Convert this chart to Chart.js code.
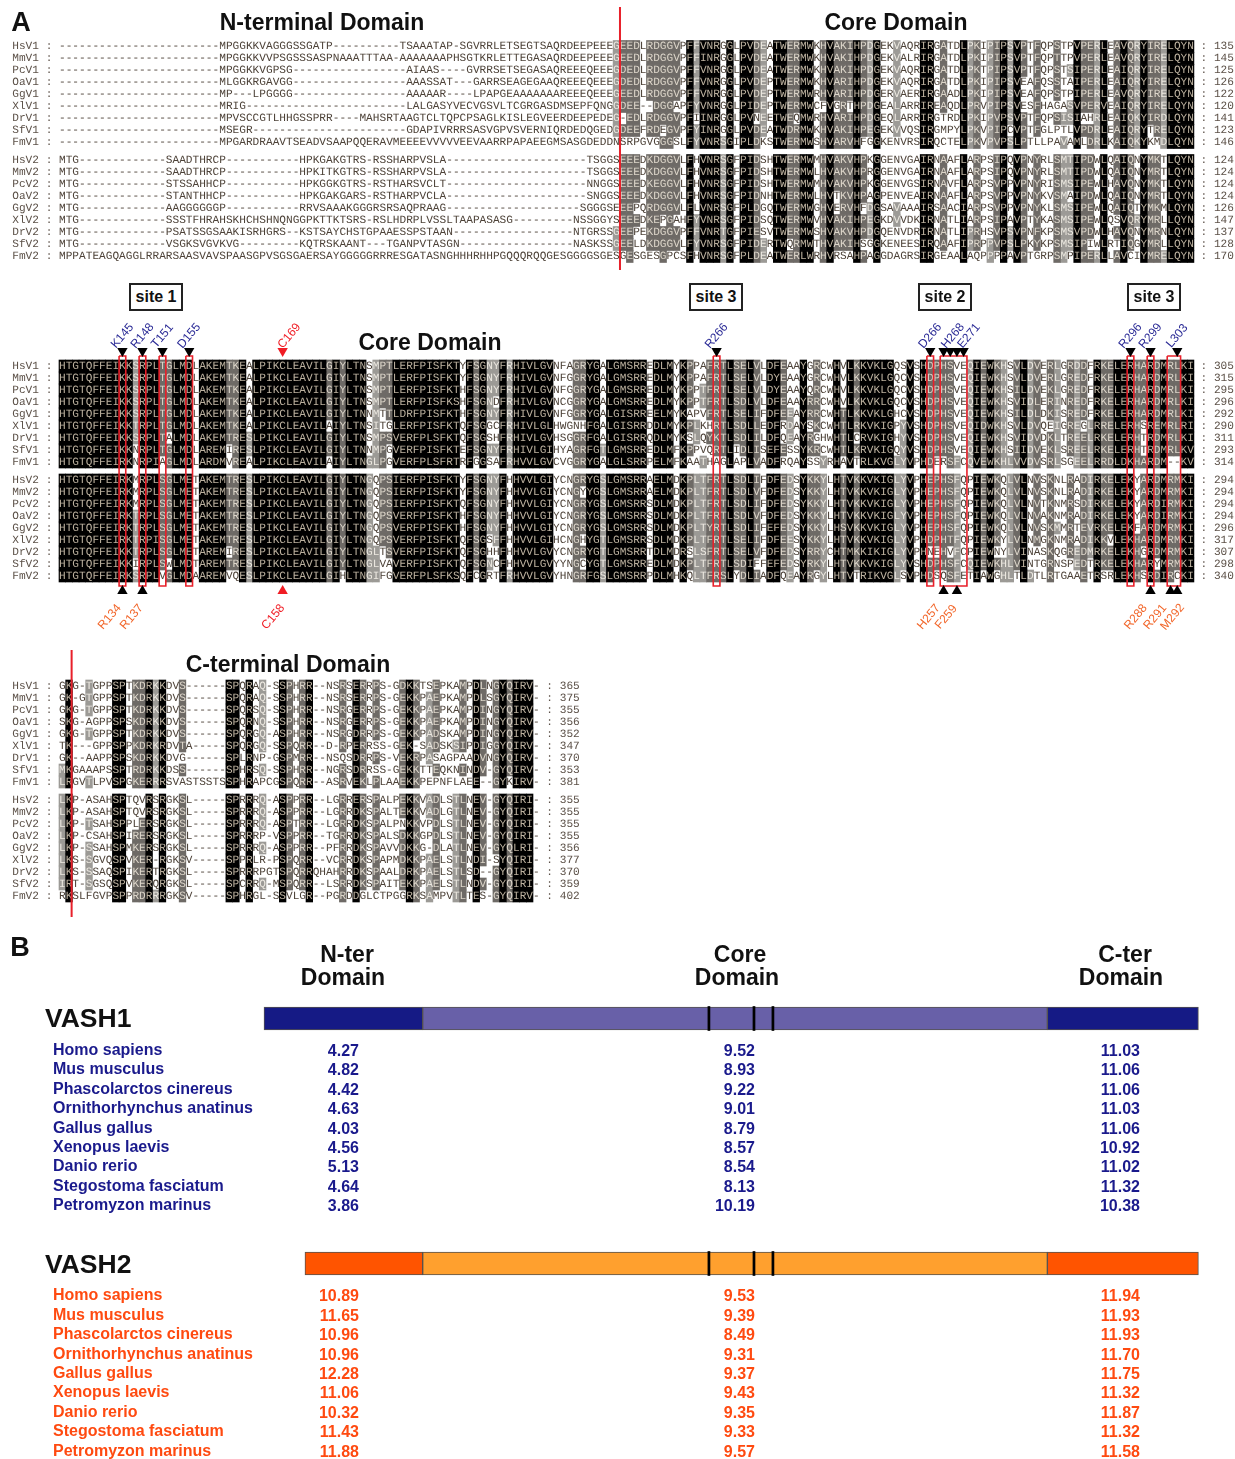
<!DOCTYPE html>
<html>
<head>
<meta charset="utf-8">
<title>VASH alignment</title>
<script src="https://cdn.jsdelivr.net/npm/chart.js@4/dist/chart.umd.min.js"></script>
<style>
html,body{margin:0;padding:0;background:#fff;overflow:hidden}
body{position:relative;width:1235px;height:1459px;font-family:"Liberation Sans",Arial,sans-serif;color:#111}
canvas{position:absolute;left:0}
#chartA{top:0;filter:blur(0.35px)}
#chartB{top:925px}
.t{position:absolute;font-weight:bold;white-space:nowrap;transform:translate(-50%,-50%);line-height:1}
.h{font-size:23px}
.p{font-size:27px}
.v{font-size:26.5px;transform:translate(0,-50%)}
.box{position:absolute;width:50px;height:24px;border:2px solid #222;background:#fff;font-weight:bold;font-size:16px;line-height:24px;text-align:center}
</style>
</head>
<body>
<canvas id="chartA" width="1235" height="925"></canvas>
<canvas id="chartB" width="1235" height="534"></canvas>

<div class="t p" style="left:21px;top:22px">A</div>
<div class="t h" style="left:322px;top:22px">N-terminal Domain</div>
<div class="t h" style="left:896px;top:22px">Core Domain</div>
<div class="t h" style="left:430px;top:342px">Core Domain</div>
<div class="t h" style="left:288px;top:664px">C-terminal Domain</div>
<div class="box" style="left:129px;top:283px">site 1</div>
<div class="box" style="left:689px;top:283px">site 3</div>
<div class="box" style="left:918px;top:283px">site 2</div>
<div class="box" style="left:1127px;top:283px">site 3</div>

<div class="t p" style="left:20px;top:947px">B</div>
<div class="t h" style="left:347px;top:954px">N-ter</div>
<div class="t h" style="left:343px;top:977px">Domain</div>
<div class="t h" style="left:740px;top:954px">Core</div>
<div class="t h" style="left:737px;top:977px">Domain</div>
<div class="t h" style="left:1125px;top:954px">C-ter</div>
<div class="t h" style="left:1121px;top:977px">Domain</div>
<div class="t v" style="left:45px;top:1018px">VASH1</div>
<div class="t v" style="left:45px;top:1264px">VASH2</div>

<script>
function gap(n){ return "-".repeat(n) }

var rowNames = ["HsV1","MmV1","PcV1","OaV1","GgV1","XlV1","DrV1","SfV1","FmV1",
                "HsV2","MmV2","PcV2","OaV2","GgV2","XlV2","DrV2","SfV2","FmV2"]

// N-terminal part of the first block
var nterSeqs = [
    gap(24)+"MPGGKKVAGGGSSGATP"+gap(10)+"TSAAATAP-SGVRRLETSEGTSAQRDEEPEEEG",
    gap(24)+"MPGGKKVVPSGSSSASPNAAATTTAA-AAAAAAAPHSGTKRLETTEGASAQRDEEPEEEG",
    gap(24)+"MPGGKKVGPSG"+gap(17)+"AIAAS----GVRRSETSEGASAQREEEQEEEG",
    gap(24)+"MLGGKRGAVGG"+gap(17)+"AAASSAT---GARRSEAGEGAAQREEEQEEEG",
    gap(24)+"MP---LPGGGG"+gap(17)+"AAAAAR----LPAPGEAAAAAAAREEEQEEEG",
    gap(24)+"MRIG"+gap(24)+"LALGASYVECVGSVLTCGRGASDMSEPFQNGG",
    gap(24)+"MPVSCCGTLHHGSSPRR----MAHSRTAAGTCLTQPCPSAGLKISLEGVEERDEEPEDEG",
    gap(24)+"MSEGR"+gap(23)+"GDAPIVRRRSASVGPVSVERNIQRDEDQGEDG",
    gap(24)+"MPGARDRAAVTSEADVSAAPQQERAVMEEEEVVVVVEEVAARRPAPAEEGMSASGDEDDN",
    "MTG"+gap(13)+"SAADTHRCP"+gap(11)+"HPKGAKGTRS-RSSHARPVSLA"+gap(21)+"TSGGS",
    "MTG"+gap(13)+"SAADTHRCP"+gap(11)+"HPKITKGTRS-RSSHARPVSLA"+gap(21)+"TSGGS",
    "MTG"+gap(13)+"STSSAHHCP"+gap(11)+"HPKGGKGTRS-RSTHARSVCLT"+gap(21)+"NNGGS",
    "MTG"+gap(13)+"STANTHHCP"+gap(11)+"HPKGAKGARS-RSTHARPVCLA"+gap(21)+"SNGGS",
    "MTG"+gap(13)+"AAGGGGGGP"+gap(11)+"RRVSAAAKGGGRSRSAQPRAAG"+gap(20)+"SGGGSE",
    "MTG"+gap(13)+"SSSTFHRAHSKHCHSHNQNGGPKTTKTSRS-RSLHDRPLVSSLTAAPASASG"+gap(9)+"NSSGGYS",
    "MTG"+gap(13)+"PSATSSGSAAKISRHGRS--KSTSAYCHSTGPAAESSPSTAAN"+gap(18)+"NTGRSSG",
    "MTG"+gap(13)+"VSGKSVGVKVG"+gap(9)+"KQTRSKAANT---TGANPVTASGN"+gap(17)+"NASKSSG",
    "MPPATEAGQAGGLRRARSAASVAVSPAASGPVSGSGAERSAYGGGGGRRRESGATASNGHHHRHHPGQQQRQQGESGGGGSGES"
]

// core part of the first block
var coreSeqs = [
    "EEDLRDGGVPFFVNRGGLPVDEATWERMWKHVAKIHPDGEKVAQRIRGATDLPKIPIPSVPTFQPSTPVPERLEAVQRYIRELQYN",
    "EEDLRDGGVPFFINRGGLPVDEATWERMWKHVAKIHPDGEKVALRIRGATDLPKIPIPSVPTFQPTTPVPERLEAVQRYIRELQYN",
    "DEDLRDGGVPFFVNRGGLPVDEATWERMWKHVAKIHPDGEKVAQRIRGATDLPKTPIPSVPTFQPSTSIPERLEAIQRYIRELQYN",
    "DEDLRDGGVPFFVNRGGLPVDEPTWERMWKHVARIHPDGEKVAQRIRGATDLPKIPIPSVEAFQSSTAIPERLEAIQRYIRELQYN",
    "EEDLRDGGVPFFVNRGGLPVDEPTWERMWRHVARIHPDGERVAERIRGAADLPKIPIPSVEAFQPSTPIPERLEAVQRYIRELQYN",
    "DEE--DGGAPFYVNRGGLPIDEPTWERMWCFVGRTHPDGEALARRIREAQDLPRVPIPSVESFHAGASVPERVEAIQRYIRELQYN",
    "-EDLRDGGVPFIINRGGLPVNEETWEQMWRHVARIHPDGEQLARRIRGTRDLPKIPVPSVPTFQPSISIAHRLEAIQKYIRDLQYN",
    "DEEFRDEGVPFYINRGGLPVDEATWDRMWKHVAKIHPEGEKVVQSIRGMPYLPKVPIPCVPTFGLPTLVPDRLEAIQRYTRELQYN",
    "SRPGVGGGSLFYVNRSGIPLDKSTWERMWSHVARVHFGGKENVRSIRQCTELPKVPVPSLPTLLPAVAMLDRLKAIQKYKMDLQYN",
    "EEEDKDGGVLFHVNRSGFPIDSHTWERMWMHVAKVHPKGGENVGAIRNAAFLARPSIPQVPNYRLSMTIPDWLQAIQNYMKTLQYN",
    "EEEDKDGGVLFHVNRSGFPIDSHTWERMWLHVAKVHPRGGENVGAIRNAAFLARPSIPQVPNYRLSMTIPDWLQAIQNYMRTLQYN",
    "EEEDKEGGVLFHVNRSGFPIDSHTWERMWMHVAKVHPKGGENVGSIRNAVFLARPSVPPVPNYRISMSIPEWLHAVQNYMKTLQYN",
    "EEEDKDGGVLFHVNRSGFPIDNHTWERMWLHVTKVHPAGPENVEAIRNAAFLARPSVPPVPNYKVSMAIPDWLQAIQNYMRTLQYN",
    "EEPQRDGGVLFLVNRSGFPLDGQTWERMWGHVERVHFDGSAVAAAIRSAACIARPSVPPVPNYKLSMSIPEWLQAIQTYMKMLQYN",
    "EEEDKEPGAHFYVNRSGFPIDSQTWERMWVHVAKIHPEGKDVVDKIRNATLIARPSIPAVPTYKASMSIPEWLQSVQRYMRLLQYN",
    "EEPEKDGGVPFFVNRTGFPIESVTWERMWSHVAKVHPDGQENVDRIRNATLIPRHSVPSVPNFKPSMSVPDWLHAVQNYMRNLQYN",
    "EELDKDGGVLFYVNRSGFPIDERTWQRMWTHVAKIHSGGKENEESIRQAAFIPRPPVPSLPKYKPSMSIPIWLRTIQGYMRLLQYN",
    "GESGESGPCSFHVNRSGFPLDEATWERLWRHVRSAHPAGGDAGRSIRGEAALAQPPPPAVPTGRPSMPIPERLLAVCIYMRELQYN"
]

// second block, core domain
var core2Seqs = [
    "HTGTQFFEIKKSRPLTGLMDLAKEMTKEALPIKCLEAVILGIYLTNSMPTLERFPISFKTYFSGNYFRHIVLGVNFAGRYGALGMSRREDLMYKPPAFRTLSELVLDFEAAYGRCWHVLKKVKLGQSVSHDPHSVEQIEWKHSVLDVERLGRDDFRKELERHARDMRLKI",
    "HTGTQFFEIKKSRPLTGLMDLAKEMTKEALPIKCLEAVILGIYLTNSMPTLERFPISFKTYFSGNYFRHIVLGVNFGGRYGALGMSRREDLMYKPPAFRTLSELVLDYEAAYGRCWHVLKKVKLGQCVSHDPHSVEQIEWKHSVLDVERLGREDFRKELERHARDMRLKI",
    "HTGTQFFEIKKSRPLTGLMDLAKEMTKEALPIKCLEAVILGIYLTNSMPTLERFPISFKTHFSGNYFRHIVLGVNFGGRYGALGMSRREDLMYKPPTFRTLSELVLDYEAAYQRCWHVLKKVKLGQCVSHDPHSVEQIEWKHSILDVEKLGREDFRKELERHARDMRLKI",
    "HTGTQFFEIKKSRPLTGLMDLAKEMTKEALPIKCLEAVILGIYLTNSMPTLERFPISFKSHFSGNDFRHIVLGVNCGGRYGALGMSRREDLMYKPPTFRTLSDLVLDFEAAYRRCWHVLKKVKLGQCVSHDPHSVEQIEWKHSVIDLERINREDFRKELERHARDMRLKI",
    "HTGTQFFEIKKSRPLTGLMDLAKEMTKEALPIKCLEAVILGIYLTNNMTTLDRFPISFKTHFSGNYFRHIVLGVNFGGRYGALGISRREELMYKAPVFRTLSELIFDFEEAYRRCWHTLKKVKLGHCVSHDPHSVEQIEWKHSILDLDKISREDFRKELERHARDMRLKI",
    "HTGTQFFEIKKTRPLTGLMDLAKEMTKEALPIKCLEAVILAIYLTNSITGLERFPISFKTQFSGGCFRHIVLGLHWGNHFGALGISRRDDLMYKPLKHRTLSDLLEDFRDAYSKCWHTLRKVKIGPYVSHDPHSVEQIDWKHSVLDVQEIGREGLRRELERHSREMRLRI",
    "HTGTQFFEIKKSRPLTALMDLAKEMTRESLPIKCLEAVILGIYLTNSMPSVERFPLSFKTQFSGSHFRHIVLGVHSGGRFGALGISRRQDLMYKSLQYKTLSDLILDFQEAYRGHWHTLCRVKIGHYVSHDPHSVEQIEWKHSVIDVDKLTREELRKELERHTRDMRLKI",
    "HTGTQFFEIKKNRPLTGLMDLAREMIRESLPIKCLEAVILGIYLTNNMPGVERFPISFKTEFSGNYFRHIVLGIHYAGRFGTLGMSRREDLMFKPPVQRTLIDLISEFESSYKRCWHTLKRVKIGQYVSHDPHSVEQIEWKHSIIDVEKLSREELRKELERHTRDMRLKV",
    "HTGTQFFEIRKNRPIAGLMDLARDMVREALPIKCLEAVILAIYLTNGLPGVERFPLSFRTRFGGSAFRHVVLGVCVGGRYGALGLSRRPELMFKAATHAGLAPLVADFRQAYSSYRHAVTRLKVGLYVPHDERSFCQVEWKHLVVDVSRLSGEELRRDLDKHARDM--KV",
    "HTGTQFFEIRKMRPLSGLMETAKEMTRESLPIKCLEAVILGIYLTNGQPSIERFPISFKTYFSGNYFHHVVLGIYCNGRYGSLGMSRRAELMDKPLTFRTLSDLIFDFEDSYKKYLHTVKKVKIGLYVPHEPHSFQPIEWKQLVLNVSKNLRADIRKELEKYARDMRMKI",
    "HTGTQFFEIRKMRPLSGLMETAKEMTRESLPIKCLEAVILGIYLTNGQPSIERFPISFKTYFSGNYFHHVVLGIYCNGYYGSLGMSRRAELMDKPLTFRTLSDLVFDFEDSYKKYLHTVKKVKIGLYVPHEPHSFQPIEWKQLVLNVSKNLRADIRKELEKYARDMRMKI",
    "HTGTQFFEIRKMRPLSGLMETAKEMTRESLPIKCLEAVILGIYLTNGQPSIERFPISFKTQFSGNYFHHVVLGIYCNGRYGSLGMSRRSDLMDKPLTFRTLSDLIFDFEDSYKKYLHTVKKVKIGLYVPHEPHSFQPIEWKQLVLNVTKNMRSDIRKELEKYARDIRMKI",
    "HTGTQFFEIRKTRPLSGLMETAKEMTRESLPIKCLEAVILGIYLTNGQPSVERFPISFKTHFSGNYFHHVVLGIYCNGRYGSLGMSRRSDLMDKPLTFRTLSDLVFDFEDSYKKYLHTVKKVKIGLYVPHEPHSFQPIEWKQLVLNVAKNMRADIRKELEKYARDIRMKI",
    "HTGTQFFEIRKTRPLSGLMETAKEMTRESLPIKCLEAVILGIYLTNGQPSVERFPISFKTHFSGNYFHHVVLGIYCNGRYGSLGMSRRSDLMDKPLTYRTLSDLIFEFEDSYKKYLHSVKKVKIGLYVPHEPHSFQPIEWKQLVLNVSKMMRTEVRKELEKFARDMRMKI",
    "HTGTQFFEIRKTRPISGLMETAKEMTRESLPIKCLEAVILGIYLTNGQPSVERFPISFKTQFSGSFFHHVVLGIHCNGHYGTLGMSRRSDLMDKPLTFRTLSELIFDFEESYKKYLHTVKKVKIGLYVPHDPHTFQPIEWKYLVLNMGKNMRADIKKVLEKHARDMRMKI",
    "HTGTQFFEIKKTRPLSGLMETAREMIRESLPIKCLEAVILGIYLTNGLTSVERFPISFKTQFSGHHFHHVVLGVYCNGRYGTLGMSRRTDLMDRSLSFRTLSELVFDFEDSYRRYCHTMKKIKIGLYVPHNEHVFCPIEWNYLVINASKQGREDMRKELEKHGRDMRMKI",
    "HTGTQFFEIKKIRPLSWLMDTAREMTRESLPIKCLEAVILGIYLTNGLVAVERFPISFKTQFSGNCFHHVVLGVYYNGCYGTLGMSRREDLMDKPLTFRTLSDIFFEFEDSYRKYLHTVKKVKIGLYVSHDPHSFCQIEWKHLVINTGRNSPEDTRKELEKHARYMRMKI",
    "HTGTQFFEIRKSRPLVGLMDAAREMVQESLPIKCLEAVILGIHLTNGIFGVERFPLSFKSQFCGRTFRHVVLGVYHNGRFGSLGMSRRPDLMHKQLTFRSLYDLIADFQEAYRGYLHTVTRIKVGLSVPHDSQSFETIAWGHLTLDTLRTGAAETRSRLEKHSRDIRCKI"
]

// third block, C-terminal domain
var cterSeqs = [
    "GKG-TGPPSPTKDRKKDVS------SPQRAQ-SSPHRR--NSRSERRPS-GDKKTSEPKAMPDLNGYQIRV-",
    "GK-GTGPPSPTKDRKKDVS------SPQRAQ-SSPHRR--NSRSERRPS-GEKKPAEPKAMPDLSGYQIRV-",
    "GKG-TGPPSPTKDRKKDVS------SPQRSQ-SSPHRR--NSRGERRPS-GEKKPAEPKAMPDINGYQIRV-",
    "SKG-AGPPSPSKDRKKDVS------SPQRNQ-SSPHRR--NSRGERRPS-GEKKPAEPKAMPDINGYQIRV-",
    "GKG-TGPPSPTKDRKKDVS------SPQRGQ-ASPHRR--NSRGDRRPS-GEKKPADSKAMPDINGYQIRV-",
    "TK---GPPSPPKDRKRDVTA-----SPQRGQ-SSPQRR--D-RPERRSS-GEK-SADSKSIPDIGGYQIRV-",
    "GK--AAPPSPSKDRKKDVG------SPLRNP-GSPMRR--NSQSDRRPS-VEKRPASAGPAADVNGYQIRV-",
    "MKGAAAPSSPTRDRKKDSS------SPHRSQ-SSPHRR--NGRSDRRSS-GEKKTTEQKNINDV-GYQIRV-",
    "LRGVTLPVSPGKERRRSVASTSSTSSPHRAPCGSPQRR--ASRVEKLPLAAEKKPEPNFLAEE--GYKIRV-",
    "LKP-ASAHSPTQVRSRGKSL-----SPRRRQ-ASPPRR--LGRRERSPALPEKKVADLSTLNEV-GYQIRI-",
    "LKP-ASAHSPTQVRSRGKSL-----SPRRRQ-ASPPRR--LGRRDKSPALTEKKVADLGTLNEV-GYQIRI-",
    "LKP-TSAHSPPLERSRGKSL-----SPRRRQ-ASPTRR--LGRRDKSPALPNKKVPDLSTLNEV-GYQIRI-",
    "LKP-CSAHSPIRERSRGKSL-----SPRRRP-VSPPRR--TGRRDKSPALSDKKGPDLSTLNEV-GYQIRI-",
    "LKP-SSAHSPMKERSRGKSL-----SPRRRQ-ASPPRR--PFRRDKSPAVVDKKG-DLATLNEV-GYQLRI-",
    "LKS-SGVQSPVKER-RGKSV-----SPPRLR-PSPQRR--VCRRDKSPAPMDKKPAELSTLNDI-SYQIRI-",
    "LKS-SSAQSPIKERTRGKSL-----SPRRRPGTSPQRRQHAHRRDKSPAALDRKPAELSTLSD--GYQIRI-",
    "IRT-SGSQSPVKERQRGKSL-----SPCRRQ-MSPQRR--LSRRDKSPAITEKKPAELSTLNDV-GYQIRI-",
    "RKSLFGVPSPPRDRRRGKSV-----SPHRGL-SSVLGR--PGRDDGLCTPGGRKSAMPVTLTES-GYQIRV-"
]

var endsBlock1 = [135,145,125,126,122,120,141,123,146,124,124,124,124,126,147,137,128,170]
var endsBlock2 = [305,315,295,296,292,290,311,293,314,294,294,294,294,296,317,307,298,340]
var endsBlock3 = [365,375,355,356,352,347,370,353,381,355,355,355,355,356,377,370,359,402]

// alignment columns of the boxed residues, second block
var boxFrom = [9,12,15,19,98,130,132,160,163,166]
var boxTo   = [9,12,15,19,98,130,135,160,163,167]

// arrowheads, second block
var topArrowCols = [9,12,15,19,33,98,130,132,133,134,135,160,163,167]
var botArrowCols = [9,12,33,132,134,163,166,167]
var redArrowCols = [33]

var topLabels = ["K145","R148","T151","D155","C169","R266","D266","H268","E271","R296","R299","L303"]
var topLabelCols = [9,12,15,19,34,98,130,133.4,135.8,160,163,167]
var botLabels = ["R134","R137","C158","H257","F259","R288","R291","M292"]
var botLabelCols = [7.1,10.4,31.6,129.8,132.4,160.8,163.7,166.3]

var species = ["Homo sapiens","Mus musculus","Phascolarctos cinereus","Ornithorhynchus anatinus",
               "Gallus gallus","Xenopus laevis","Danio rerio","Stegostoma fasciatum","Petromyzon marinus"]
var vash1Nter = ["4.27","4.82","4.42","4.63","4.03","4.56","5.13","4.64","3.86"]
var vash1Core = ["9.52","8.93","9.22","9.01","8.79","8.57","8.54","8.13","10.19"]
var vash1Cter = ["11.03","11.06","11.06","11.03","11.06","10.92","11.02","11.32","10.38"]
var vash2Nter = ["10.89","11.65","10.96","10.96","12.28","11.06","10.32","11.43","11.88"]
var vash2Core = ["9.53","9.39","8.49","9.31","9.37","9.43","9.35","9.33","9.57"]
var vash2Cter = ["11.94","11.93","11.93","11.70","11.75","11.32","11.87","11.32","11.58"]

// domain limits in residues
var vash1Limits = [0,62,306,365]
var vash2Limits = [16,62,306,365]
var siteTicks = [173.8,191.4,198.8]

var COL_W = 6.676, ROW_H = 12, LEFT = 59
var blockRow0 = [46.5/ROW_H, 366/ROW_H, 686/ROW_H]
var SHADE = ["#ffffff","#9c9a96","#6e6a66","#000000"]
var INK = ["#4d4238","#ece8e0","#ddd6ca","#bcb19f"]
var groups = ["ILVM","KR","DE","ST","FYW","NQ"]
// K/R column the picture shows grey although it is fully similar
var greyCols = [[],[26],[]]

function groupOf(c){
    for(var i=0;i<groups.length;i++){
        if(groups[i].indexOf(c)>=0) return groups[i]
    }
    return c
}

// same idea as the alignment editor: share of the column agreeing with its commonest group
function shadeBlock(seqs,b){
    var out = seqs.map(function(){ return [] })
    for(var c=0;c<seqs[0].length;c++){
        var counts = {}
        seqs.forEach(function(s){
            if(s[c]==="-") return
            var g = groupOf(s[c])
            counts[g] = (counts[g]||0)+1
        })
        var best = null
        for(var g in counts){ if(best===null || counts[g]>counts[best]) best = g }
        var f = best===null ? 0 : counts[best]/seqs.length
        var level = f>=0.99 ? 3 : (f>=0.72 ? 2 : (f>=0.55 ? 1 : 0))
        if(greyCols[b].indexOf(c)>=0) level = 2
        seqs.forEach(function(s,r){
            out[r][c] = (s[c]!=="-" && groupOf(s[c])===best) ? level : 0
        })
    }
    return out
}

function rowValue(block,r){
    return blockRow0[block] + (r<9 ? r : r+0.5)
}

var block1 = nterSeqs.map(function(s,i){ return s+coreSeqs[i] })
var blocks = [block1,core2Seqs,cterSeqs]
var ends = [endsBlock1,endsBlock2,endsBlock3]
var shades = blocks.map(shadeBlock)

var cells = {1:[],2:[],3:[]}
shades.forEach(function(rows,b){
    rows.forEach(function(levels,r){
        levels.forEach(function(lv,c){
            if(lv>0){
                var y = rowValue(b,r)
                cells[lv].push({x:c,y:[y-0.5,y+0.5]})
            }
        })
    })
})

function outline(c0,c1,top,bottom){
    return {
        type:"line", order:1, borderColor:"#e8202a", borderWidth:1.6, pointRadius:0, tension:0,
        data:[{x:c0-0.5,y:top},{x:c1+0.5,y:top},{x:c1+0.5,y:bottom},{x:c0-0.5,y:bottom},{x:c0-0.5,y:top}]
    }
}
function redLine(c,top,bottom){
    return {type:"line", order:1, borderColor:"#e8202a", borderWidth:2, pointRadius:0, data:[{x:c,y:top},{x:c,y:bottom}]}
}
function arrows(cols,y,rotation){
    return {
        type:"scatter", order:1, pointStyle:"triangle", pointRadius:6, rotation:rotation, borderWidth:0,
        pointBackgroundColor:cols.map(function(c){ return redArrowCols.indexOf(c)>=0 ? "#f01c24" : "#000" }),
        pointBorderWidth:0,
        data:cols.map(function(c){ return {x:c,y:y} })
    }
}

var datasets = [
    {label:"black",data:cells[3],backgroundColor:SHADE[3],order:5,grouped:false,barPercentage:1,categoryPercentage:1},
    {label:"dark",data:cells[2],backgroundColor:SHADE[2],order:6,grouped:false,barPercentage:1,categoryPercentage:1},
    {label:"light",data:cells[1],backgroundColor:SHADE[1],order:7,grouped:false,barPercentage:1,categoryPercentage:1},
    redLine(83.53,7/ROW_H,270/ROW_H),
    redLine(1.39,650/ROW_H,917/ROW_H),
    arrows(topArrowCols,351/ROW_H,180),
    arrows(botArrowCols,591/ROW_H,0)
]
boxFrom.forEach(function(c,i){
    datasets.push(outline(c,boxTo[i],356/ROW_H,586/ROW_H))
})

function drawRow(ctx,xs,y,text,levels,name,end){
    // letters go out in runs of one colour so each row stays readable text
    var start = 0
    ctx.fillStyle = "#5c5148"
    ctx.fillText(name+" :",xs(-7),y)
    ctx.fillText(": "+end,xs(text.length+1),y)
    for(var c=1;c<=text.length;c++){
        if(c===text.length || levels[c]!==levels[start]){
            ctx.fillStyle = INK[levels[start]]
            ctx.fillText(text.slice(start,c),xs(start),y)
            start = c
        }
    }
}

var alignmentText = {
    id:"alignmentText",
    afterDatasetDraw:function(chart,args){
        if(chart.data.datasets[args.index].label!=="black") return
        var ctx = chart.ctx
        var x = chart.scales.x, y = chart.scales.y
        var xs = function(c){ return x.getPixelForValue(c-0.5) }
        ctx.save()
        ctx.font = '11.13px "Liberation Mono"'
        ctx.textRendering = "geometricPrecision"
        ctx.textBaseline = "middle"
        blocks.forEach(function(seqs,b){
            seqs.forEach(function(s,r){
                drawRow(ctx,xs,y.getPixelForValue(rowValue(b,r)),s,shades[b][r],rowNames[r],ends[b][r])
            })
        })
        ctx.restore()
    },
    afterDatasetsDraw:function(chart){
        var ctx = chart.ctx
        var x = chart.scales.x
        function put(labels,cols,py,color){
            labels.forEach(function(t,i){
                ctx.save()
                ctx.translate(x.getPixelForValue(cols[i]),py)
                ctx.rotate(-50*Math.PI/180)
                ctx.fillStyle = t==="C169"||t==="C158" ? "#f01c24" : color
                ctx.font = '12px "Liberation Sans"'
                ctx.textAlign = "center"
                ctx.textBaseline = "middle"
                ctx.fillText(t,0,0)
                ctx.restore()
            })
        }
        put(topLabels,topLabelCols,336,"#2b2b96")
        put(botLabels,botLabelCols,617,"#f2662a")
    }
}

new Chart(document.getElementById("chartA"),{
    type:"bar",
    data:{datasets:datasets},
    options:{
        responsive:false, animation:false, events:[],
        layout:{padding:0,autoPadding:false},
        plugins:{legend:{display:false},tooltip:{enabled:false}},
        scales:{
            x:{type:"linear",display:false,offset:false,min:-LEFT/COL_W-0.5,max:(1235-LEFT)/COL_W-0.5},
            y:{type:"linear",display:false,reverse:true,min:0,max:925/ROW_H}
        }
    },
    plugins:[alignmentText]
})

// part B, y runs in table rows, x in residues
var TABLE_H = 19.4
var NAVY = "#1a1a8c", RED = "#ff4a10"
var barRow1 = 93.5/TABLE_H, barRow2 = 338.5/TABLE_H
var tableRow1 = 125.5/TABLE_H, tableRow2 = 371/TABLE_H

function domainBars(limits,row,outer,inner){
    return {
        data:[
            {x:[limits[0],limits[1]],y:row},
            {x:[limits[1],limits[2]],y:row},
            {x:[limits[2],limits[3]],y:row}
        ],
        backgroundColor:[outer,inner,outer],
        borderColor:"#55524f", borderWidth:1, borderSkipped:false,
        barThickness:23, grouped:false, order:3
    }
}
function tickBars(row){
    return {
        data:siteTicks.map(function(t){ return {x:[t-0.4,t+0.4],y:row} }),
        backgroundColor:"#000", barThickness:24, grouped:false, order:1
    }
}

var domainText = {
    id:"domainText",
    afterDatasetsDraw:function(chart){
        var ctx = chart.ctx, y = chart.scales.y
        function table(row0,color,a,b,c){
            ctx.fillStyle = color
            species.forEach(function(name,i){
                var py = y.getPixelForValue(row0+i)
                ctx.textAlign = "left"
                ctx.fillText(name,53,py)
                ctx.textAlign = "right"
                ctx.fillText(a[i],359,py+1)
                ctx.fillText(b[i],755,py+1)
                ctx.fillText(c[i],1140,py+1)
            })
        }
        ctx.save()
        ctx.font = 'bold 16px "Liberation Sans"'
        ctx.textBaseline = "middle"
        table(tableRow1,NAVY,vash1Nter,vash1Core,vash1Cter)
        table(tableRow2,RED,vash2Nter,vash2Core,vash2Cter)
        ctx.restore()
    }
}

new Chart(document.getElementById("chartB"),{
    type:"bar",
    data:{datasets:[
        domainBars(vash1Limits,barRow1,"#151a85","#6860a8"),
        domainBars(vash2Limits,barRow2,"#ff5400","#ffa02e"),
        tickBars(barRow1),
        tickBars(barRow2)
    ]},
    options:{
        indexAxis:"y",
        responsive:false, animation:false, events:[],
        layout:{padding:0},
        plugins:{legend:{display:false},tooltip:{enabled:false}},
        scales:{
            x:{type:"linear",display:false,min:-264/2.56,max:(1235-264)/2.56},
            y:{type:"linear",display:false,offset:false,reverse:true,min:0,max:534/TABLE_H}
        }
    },
    plugins:[domainText]
})
</script>
</body>
</html>
